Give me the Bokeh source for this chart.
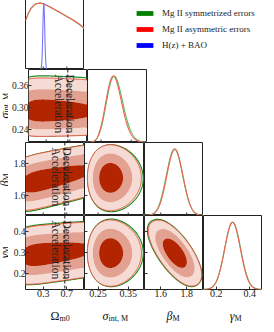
import numpy as np
from bokeh.plotting import figure
from bokeh.layouts import column, row
from bokeh.models import (Range1d, FixedTicker, PrintfTickFormatter, Label, Span,
                          Legend, LegendItem)
from bokeh.core.properties import value
from bokeh.embed import file_html
from bokeh.resources import INLINE

# ---------------- chart values ----------------
param_names = ["om", "sig", "beta", "gam"]
axis_ranges = {"om": (0.0, 1.0), "sig": (0.205, 0.404), "beta": (1.475, 1.93), "gam": (0.124, 0.476)}
x_ticks = {"om": [0.3, 0.7], "sig": [0.25, 0.35], "beta": [1.6, 1.8], "gam": [0.2, 0.4]}
y_ticks = {"sig": [0.24, 0.30, 0.36], "beta": [1.6, 1.8], "gam": [0.2, 0.3, 0.4]}
tick_format = {"om": "%.1f", "sig": "%.2f", "beta": "%.1f", "gam": "%.1f"}

# relative 1D posterior of Omega_m0 (Mg II)
om_nodes = [0.0, 0.05, 0.10, 0.15, 0.20, 0.25, 0.30, 0.40, 0.50, 0.60, 0.70, 0.80, 0.90, 1.00]
om_density = [0.74, 0.85, 0.93, 0.975, 0.995, 1.0, 0.99, 0.95, 0.90, 0.85, 0.80, 0.75, 0.69, 0.62]

# H(z) + BAO constraint on Omega_m0
hz_om_mean = 0.31
hz_om_sd = 0.016

# Mg II posteriors: "asym" = asymmetric errors (red), "sym" = symmetrized errors (green)
sig_median = {"asym": 0.293, "sym": 0.296}
sig_log_sd = {"asym": 0.090, "sym": 0.092}
beta_at_om0 = {"asym": 1.672, "sym": 1.668}
beta_per_om = {"asym": 0.080, "sym": 0.082}
beta_sd = {"asym": 0.057, "sym": 0.058}
gam_at_om0 = {"asym": 0.283, "sym": 0.284}
gam_per_om = {"asym": 0.030, "sym": 0.030}
gam_sd = {"asym": 0.046, "sym": 0.047}
beta_gam_corr = {"asym": -0.78, "sym": -0.78}
contour_masses = [0.997, 0.954, 0.683]

decel_boundary = 2.0 / 3.0
legend_labels = ["Mg II symmetrized errors", "Mg II asymmetric errors", "H(z) + BAO"]
legend_colors = ["#008000", "#ff0000", "#0000ff"]

# axis titles: (main symbol, subscript, italic)
titles = {"om": ("Ω", "m0", False), "sig": ("σ", "int, M", True),
          "beta": ("β", "M", True), "gam": ("γ", "M", True)}

# ---------------- layout / style ----------------
col_w = [59, 60, 59, 59]
row_h = [73, 73, 73, 74]
LEFT, TOP, BOTTOM = 17, 4, 14
STRIP_W = 16
STRIP_H = 21
MAIN_H = TOP + sum(row_h) + BOTTOM
PAGE_W = STRIP_W + LEFT + sum(col_w)
SERIF = "Liberation Serif"
fill_red = ["#f6dbd4", "#e3a291", "#b32500"]
line_red = "#e2432d"
line_green = "#1e8c1e"
curve_red = "#ee6252"
curve_green = "#5cb85c"
curve_blue = "#7777ff"
tick_color = "#333333"
xtitle_dx = {"om": 4.5, "sig": -6, "beta": -1.5, "gam": 1.5}
ytitle_dy = {"sig": 6.5, "beta": 1.5, "gam": 1.0}

# ---------------- densities ----------------
NG = 160


def lin(name, n=NG):
    lo, hi = axis_ranges[name]
    return np.linspace(lo, hi, n)


def gauss(x, m, s):
    return np.exp(-0.5 * ((x - m) / s) ** 2) / s


def om_pdf(x):
    return np.interp(x, om_nodes, om_density)


def sig_pdf(v, k):
    return np.exp(-0.5 * ((np.log(v) - np.log(sig_median[k])) / sig_log_sd[k]) ** 2) / v


om_mix = lin("om", 90)
w_mix = om_pdf(om_mix)
w_mix = w_mix / w_mix.sum()


def beta_marg(b, k):
    mu = beta_at_om0[k] + beta_per_om[k] * om_mix
    return (w_mix * gauss(b[:, None], mu[None, :], beta_sd[k])).sum(-1)


def gam_marg(g, k):
    mu = gam_at_om0[k] + gam_per_om[k] * om_mix
    return (w_mix * gauss(g[:, None], mu[None, :], gam_sd[k])).sum(-1)


def density2d(xn, yn, X, Y, k):
    if xn == "om":
        if yn == "sig":
            return om_pdf(X) * sig_pdf(Y, k)
        if yn == "beta":
            return om_pdf(X) * gauss(Y, beta_at_om0[k] + beta_per_om[k] * X, beta_sd[k])
        return om_pdf(X) * gauss(Y, gam_at_om0[k] + gam_per_om[k] * X, gam_sd[k])
    if xn == "sig":
        yv = Y[:, 0]
        m = beta_marg(yv, k) if yn == "beta" else gam_marg(yv, k)
        return sig_pdf(X, k) * m[:, None]
    Z = np.zeros_like(X)
    sb, sg, r = beta_sd[k], gam_sd[k], beta_gam_corr[k]
    for om, w in zip(om_mix, w_mix):
        u = (X - (beta_at_om0[k] + beta_per_om[k] * om)) / sb
        v = (Y - (gam_at_om0[k] + gam_per_om[k] * om)) / sg
        Z += w * np.exp(-(u * u - 2 * r * u * v + v * v) / (2 * (1 - r * r)))
    return Z


def hpd_levels(Z):
    z = np.sort(Z.ravel())[::-1]
    c = np.cumsum(z)
    c = c / c[-1]
    return [float(z[min(np.searchsorted(c, m), z.size - 1)]) for m in contour_masses]


def marg1d(name, x, k):
    if name == "sig":
        d = sig_pdf(x, k)
    elif name == "beta":
        d = beta_marg(x, k)
    else:
        d = gam_marg(x, k)
    return d / d.max()


# ---------------- panels ----------------
def style_axis(ax, ticks, fmt, size):
    ax.ticker = FixedTicker(ticks=ticks)
    ax.formatter = PrintfTickFormatter(format=fmt)
    ax.major_tick_in = 3
    ax.major_tick_out = 0
    ax.minor_tick_in = 0
    ax.minor_tick_out = 0
    ax.axis_line_color = None
    ax.major_tick_line_color = tick_color
    ax.axis_label = None
    ax.major_label_text_font = SERIF
    ax.major_label_text_font_size = size
    ax.major_label_text_color = "#222222"
    ax.major_label_standoff = 0


def make_panel(i, j):
    xn, yn = param_names[j], param_names[i]
    diag = i == j
    xr = Range1d(*axis_ranges[xn])
    yr = Range1d(0, 1.1) if diag else Range1d(*axis_ranges[yn])
    p = figure(frame_width=col_w[j], frame_height=row_h[i], x_range=xr, y_range=yr,
               output_backend="svg", toolbar_location=None,
               min_border_left=LEFT if j == 0 else 0, min_border_right=0,
               min_border_top=TOP if i == 0 else 0,
               min_border_bottom=BOTTOM if i == 3 else 0)
    p.grid.visible = False
    p.outline_line_color = "#222222"
    p.outline_line_width = 1

    if i == 3:
        style_axis(p.below[0], x_ticks[xn], tick_format[xn], "10px")
    else:
        p.below[0].visible = False
    if j == 0 and not diag:
        style_axis(p.left[0], y_ticks[yn], tick_format[yn], "9.5px")
    else:
        p.left[0].visible = False

    if diag:
        if xn == "om":
            p.line(om_nodes, om_density, line_color=curve_green, line_width=1.1)
            p.line(om_nodes, om_density, line_color=curve_red, line_width=1.1)
            xb = np.linspace(0.2, 0.42, 400)
            yb = gauss(xb, hz_om_mean, hz_om_sd)
            p.line(xb, yb / yb.max(), line_color=curve_blue, line_width=1.1)
        else:
            x = lin(xn, 300)
            p.line(x, marg1d(xn, x, "sym"), line_color=curve_green, line_width=1.1)
            p.line(x, marg1d(xn, x, "asym"), line_color=curve_red, line_width=1.1)
    else:
        X, Y = np.meshgrid(lin(xn), lin(yn))
        Zg = density2d(xn, yn, X, Y, "sym")
        Zr = density2d(xn, yn, X, Y, "asym")
        lg = hpd_levels(Zg)
        lr = hpd_levels(Zr)
        p.contour(X, Y, Zg, levels=[lg[0]], line_color=line_green, line_width=1.2)
        p.contour(X, Y, Zr, levels=lr + [float(Zr.max()) * 1.01], fill_color=fill_red)
        p.contour(X, Y, Zr, levels=[lr[0]], line_color=line_red, line_width=1.0)
        if j == 0:
            p.add_layout(Span(location=decel_boundary, dimension="height", line_color="#111111",
                              line_dash="3 2", line_width=1))
            lo, hi = axis_ranges[yn]
            ytop = hi - 5 * (hi - lo) / row_h[i]
            for txt, off in (("Deceleration", 1.8), ("Acceleration", -9.0)):
                p.add_layout(Label(x=decel_boundary, y=ytop, x_offset=off, text=txt, angle=-np.pi / 2,
                                   text_font=SERIF, text_font_size="11.5px", text_color="#222222",
                                   text_align="left", text_baseline="alphabetic"))

    # inward tick marks where no labelled axis is drawn (clipped to the frame: 3 px inside)
    if i != 3:
        xt = x_ticks[xn]
        p.scatter(xt, [yr.start] * len(xt), marker="dash", size=6, angle=np.pi / 2,
                  line_color=tick_color, line_width=1)
    if not diag and j > 0:
        yt = y_ticks[yn]
        p.scatter([xr.start] * len(yt), yt, marker="dash", size=6,
                  line_color=tick_color, line_width=1)
    return p


panels = {(i, j): make_panel(i, j) for i in range(4) for j in range(i + 1)}

# ---------------- legend ----------------
LEG_W = PAGE_W - STRIP_W - LEFT - col_w[0]
leg = figure(width=LEG_W, height=TOP + row_h[0], x_range=Range1d(0, 1), y_range=Range1d(0, 1),
             output_backend="svg", toolbar_location=None, min_border=0)
leg.axis.visible = False
leg.grid.visible = False
leg.outline_line_color = None
rs = [leg.quad(left=[2], right=[3], top=[3], bottom=[2], fill_color=c, line_color=None)
      for c in legend_colors]
legend = Legend(items=[LegendItem(label=l, renderers=[r]) for l, r in zip(legend_labels, rs)],
                location=(50, 16), glyph_width=21, glyph_height=6, label_standoff=7, label_height=16,
                spacing=0, padding=0, margin=0, border_line_color=None, background_fill_alpha=0,
                label_text_font=SERIF, label_text_font_size="9px", label_text_color="#222222",
                label_text_baseline="middle")
leg.add_layout(legend)


# ---------------- axis titles (strips left of and below the grid) ----------------
def title_text(p, x, y, xs, ys, name, angle):
    main, sub, italic = titles[name]
    p.text(x=[x], y=[y], text=[main], text_font=value(SERIF), text_font_size="12px",
           text_font_style="italic" if italic else "normal", text_align="right",
           text_baseline="alphabetic", text_color="#111111", angle=angle)
    p.text(x=[xs], y=[ys], text=[sub], text_font=value(SERIF), text_font_size="8px",
           text_align="left", text_baseline="alphabetic", text_color="#111111", angle=angle)


def strip(w, h):
    s = figure(width=w, height=h, x_range=Range1d(0, w), y_range=Range1d(0, h),
               output_backend="svg", toolbar_location=None, min_border=0)
    s.axis.visible = False
    s.grid.visible = False
    s.outline_line_color = None
    return s


left_strip = strip(STRIP_W, MAIN_H)
row_tops = [TOP + sum(row_h[:i]) for i in range(4)]
for i in range(1, 4):
    name = param_names[i]
    ya = MAIN_H - (row_tops[i] + row_h[i] / 2 + ytitle_dy[name])
    title_text(left_strip, 12.0, ya, 14.0, ya, name, np.pi / 2)

bottom_strip = strip(PAGE_W, STRIP_H)
col_lefts = [STRIP_W + LEFT + sum(col_w[:j]) for j in range(4)]
for j in range(4):
    name = param_names[j]
    xa = col_lefts[j] + col_w[j] / 2 + xtitle_dx[name]
    title_text(bottom_strip, xa, 9, xa, 6, name, 0)

rows = [row(panels[(0, 0)], leg, spacing=0)]
for i in range(1, 4):
    rows.append(row(*[panels[(i, j)] for j in range(i + 1)], spacing=0))
grid = column(*rows, spacing=0)
layout = column(row(left_strip, grid, spacing=0), bottom_strip, spacing=0)
layout.styles = {"margin": "-8px"}

open("out.html", "w").write(file_html(layout, INLINE))
